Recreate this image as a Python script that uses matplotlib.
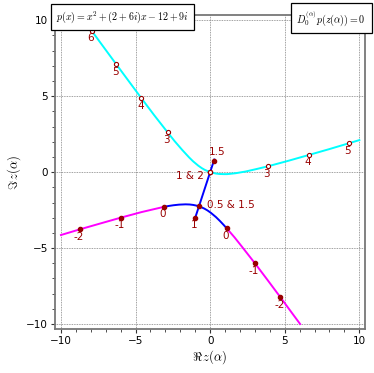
import matplotlib
matplotlib.use('Agg')
import matplotlib.pyplot as plt

plt.rcParams['mathtext.fontset'] = 'cm'

# curve pieces (Re, Im)
mag_left_x = [-3.12, -4.60, -6.00, -7.36, -8.71, -10.0]
mag_left_y = [-2.29, -2.63, -3.00, -3.38, -3.76, -4.14]
mag_right_x = [1.12, 1.63, 2.10, 3.00, 3.86, 4.71, 5.54, 6.03]
mag_right_y = [-3.71, -4.29, -4.87, -6.00, -7.12, -8.24, -9.35, -10.0]

blue_left_x = [-3.12, -2.80, -2.46, -2.09, -1.65, -1.37, -1.13, -0.94, -0.75]
blue_left_y = [-2.29, -2.23, -2.18, -2.14, -2.12, -2.13, -2.16, -2.20, -2.25]
blue_right_x = [-0.75, -0.57, -0.39, -0.18, 0.05, 0.39, 0.66, 0.90, 1.12]
blue_right_y = [-2.25, -2.32, -2.40, -2.52, -2.68, -2.96, -3.22, -3.47, -3.71]
blue_line_x = [-1.02, -1.00, -0.75, 0.00, 0.25, 0.28]
blue_line_y = [-3.07, -3.00, -2.25, 0.00, 0.75, 0.83]

cyan_right_x = [0.0, 0.38, 0.62, 0.90, 1.13, 1.34, 1.71, 2.37, 3.13, 3.85, 5.25, 6.61, 7.96, 9.29, 10.0]
cyan_right_y = [0.0, -0.09, -0.12, -0.13, -0.13, -0.11, -0.07, 0.04, 0.21, 0.38, 0.75, 1.13, 1.51, 1.90, 2.11]
cyan_left_x = [0.0, -0.36, -0.57, -0.80, -1.14, -1.41, -1.87, -2.38, -2.85, -3.75, -4.61, -6.29, -7.95, -8.46]
cyan_left_y = [0.0, 0.15, 0.27, 0.43, 0.71, 0.97, 1.46, 2.04, 2.62, 3.75, 4.87, 7.10, 9.32, 10.0]

# marked alpha values
dots_x = [-8.71, 4.71, -6.00, 3.00, -3.12, 1.12, -0.75, -1.00, 0.00, 0.25]
dots_y = [-3.76, -8.24, -3.00, -6.00, -2.29, -3.71, -2.25, -3.00, 0.00, 0.75]
circ_x = [0.00, -2.85, 3.85, -4.61, 6.61, -6.29, 9.29, -7.95]
circ_y = [0.00, 2.62, 0.38, 4.87, 1.13, 7.10, 1.90, 9.32]

below_x = [-8.71, 4.71, -6.00, 3.00, -3.12, 1.12, -1.00, -2.85, 3.85, -4.61, 6.61, -6.29, 9.29, -7.95]
below_y = [-3.76, -8.24, -3.00, -6.00, -2.29, -3.71, -3.00, 2.62, 0.38, 4.87, 1.13, 7.10, 1.90, 9.32]
below_txt = ['-2', '-2', '-1', '-1', '0', '0', '1', '3', '3', '4', '4', '5', '5', '6']

red = '#990000'

fig = plt.figure(figsize=(3.74, 3.73), dpi=100)
ax = fig.add_axes([55 / 374, 1 - 329 / 373, 310 / 374, 314 / 373])

ax.plot(mag_left_x, mag_left_y, color='#ff00ff', lw=1.4)
ax.plot(mag_right_x, mag_right_y, color='#ff00ff', lw=1.4)
ax.plot(blue_left_x, blue_left_y, color='#0000ff', lw=1.4)
ax.plot(blue_right_x, blue_right_y, color='#0000ff', lw=1.4)
ax.plot(blue_line_x, blue_line_y, color='#0000ff', lw=1.4)
ax.plot(cyan_right_x, cyan_right_y, color='#00ffff', lw=1.4)
ax.plot(cyan_left_x, cyan_left_y, color='#00ffff', lw=1.4)

ax.scatter(dots_x, dots_y, s=9, color=red, zorder=5)
ax.scatter(circ_x, circ_y, s=9, facecolor='white', edgecolor=red, lw=0.8, zorder=6)

for x, y, t in zip(below_x, below_y, below_txt):
    ax.annotate(t, (x, y), xytext=(-0.8, -5.4), textcoords='offset points',
                ha='center', va='center', color=red, fontsize=7.5)
ax.annotate('1.5', (0.25, 0.75), xytext=(2.2, 6.5), textcoords='offset points',
            ha='center', va='center', color=red, fontsize=7.5)
ax.annotate('1 & 2', (0.0, 0.0), xytext=(-4.3, -2.9), textcoords='offset points',
            ha='right', va='center', color=red, fontsize=7.5)
ax.annotate('0.5 & 1.5', (-0.75, -2.25), xytext=(5.5, 0.7), textcoords='offset points',
            ha='left', va='center', color=red, fontsize=7.5)

ax.set_xlim(-10.4, 10.38)
ax.set_ylim(-10.33, 10.35)
ax.set_xticks([-10, -5, 0, 5, 10])
ax.set_yticks([-10, -5, 0, 5, 10])
ax.set_xticks(range(-10, 11), minor=True)
ax.set_yticks(range(-10, 11), minor=True)
ax.tick_params(labelsize=7.5, length=3, width=0.8, color='#333333', pad=2)
ax.tick_params(which='minor', length=2, width=0.6, color='#333333')
ax.grid(True, color='#808080', ls=(0, (1, 1)), lw=0.6)
for sp in ax.spines.values():
    sp.set_color('#777777')
    sp.set_linewidth(1.3)

ax.set_xlabel(r'$\Re\,z(\alpha)$', fontsize=9, labelpad=2)
ax.set_ylabel(r'$\Im\,z(\alpha)$', fontsize=9, labelpad=2)

fig.text(56 / 374, 1 - 17 / 373, r'$p(x) = x^2 + (2 + 6i)x - 12 + 9i$', fontsize=7.2,
         ha='left', va='center',
         bbox=dict(boxstyle='square,pad=0.5', fc='white', ec='black', lw=0.9))
fig.text(366 / 374, 1 - 18 / 373, r'$D_0^{(\alpha)}p(z(\alpha)) = 0$', fontsize=7.2,
         ha='right', va='center',
         bbox=dict(boxstyle='square,pad=0.55', fc='white', ec='black', lw=0.9))

fig.savefig('out.png', dpi=100)
